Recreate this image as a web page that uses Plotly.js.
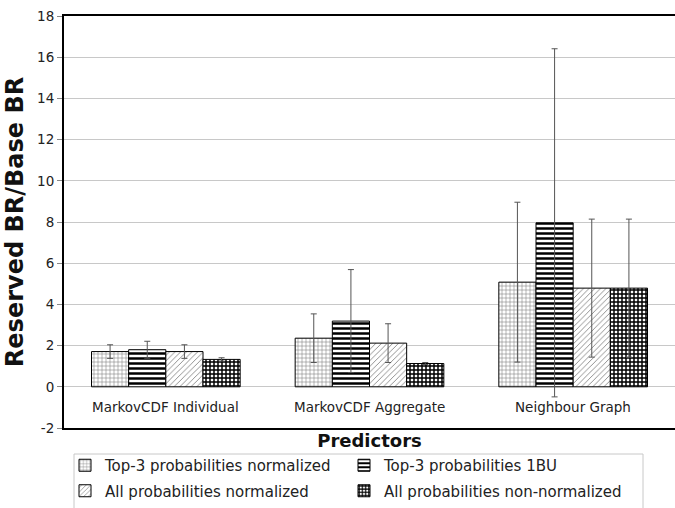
<!DOCTYPE html>
<html>
<head>
<meta charset="utf-8">
<script src="https://cdn.plot.ly/plotly-3.0.1.min.js"></script>
<style>html,body{margin:0;padding:0;background:#fff;overflow:hidden}</style>
</head>
<body>
<div id="chart" style="width:675px;height:508px"></div>
<script>
const categories = ["MarkovCDF Individual", "MarkovCDF Aggregate", "Neighbour Graph"];
const seriesNames = ["Top-3 probabilities normalized", "Top-3 probabilities 1BU", "All probabilities normalized", "All probabilities non-normalized"];
const top3Normalized = [1.71, 2.36, 5.08];
const top3Normalized_err = [0.33, 1.18, 3.88];
const top3OneBU = [1.80, 3.19, 7.96];
const top3OneBU_err = [0.41, 2.50, 8.45];
const allNormalized = [1.71, 2.12, 4.79];
const allNormalized_err = [0.33, 0.94, 3.35];
const allNonNormalized = [1.33, 1.13, 4.79];
const allNonNormalized_err = [0.08, 0.05, 3.35];
const yTicks = [-2, 0, 2, 4, 6, 8, 10, 12, 14, 16, 18];

const values = [top3Normalized, top3OneBU, allNormalized, allNonNormalized];
const errs = [top3Normalized_err, top3OneBU_err, allNormalized_err, allNonNormalized_err];
const legendFor = ["legend", "legend2", "legend", "legend2"];
const patterns = [
  {shape: "+", size: 4, solidity: 0.25, fgcolor: "#777", bgcolor: "#fff", fillmode: "replace"},
  {shape: "-", size: 5, solidity: 0.5, fgcolor: "#000", bgcolor: "#fff", fillmode: "replace"},
  {shape: "/", size: 4, solidity: 0.2, fgcolor: "#777", bgcolor: "#fff", fillmode: "replace"},
  {shape: "+", size: 4, solidity: 0.6, fgcolor: "#000", bgcolor: "#fff", fillmode: "replace"}
];

const traces = values.map((v, i) => ({
  type: "bar",
  name: seriesNames[i],
  x: categories,
  y: v,
  legend: legendFor[i],
  legendgroup: "g" + i,
  marker: {color: "#fff", line: {color: "#000", width: 1}, pattern: patterns[i]},
  error_y: {type: "data", array: errs[i], visible: true, color: "#555", thickness: 1, width: 3}
}));

const annotations = categories.map(c => ({
  x: c, y: -1, xref: "x", yref: "y", text: c, showarrow: false,
  font: {family: "DejaVu Sans", size: 13.5, color: "#222"}
}));

const W = 675, H = 508, ML = 64, MT = 16, MB = 80;
const PW = W - ML, PH = H - MT - MB;
const px2x = p => (p - ML) / PW;
const px2y = p => (H - MB - p) / PH;

const legendStyle = (xpx) => ({
  orientation: "v", x: px2x(xpx), y: px2y(449), xanchor: "left", yanchor: "top",
  borderwidth: 0, bgcolor: "rgba(0,0,0,0)", tracegroupgap: 3,
  font: {family: "DejaVu Sans", size: 15, color: "#222"},
  itemwidth: 30
});

const layout = {
  width: W, height: H,
  margin: {l: ML, r: 0, t: MT, b: MB},
  paper_bgcolor: "#fff", plot_bgcolor: "#fff",
  font: {family: "DejaVu Sans", color: "#222"},
  barmode: "group", bargap: 0.27, bargroupgap: 0,
  showlegend: true,
  xaxis: {
    showticklabels: false, showgrid: false, zeroline: false,
    showline: true, linecolor: "#000", linewidth: 2, mirror: true,
    ticks: "", automargin: false,
    title: {text: "<b>Predictors</b>", font: {family: "DejaVu Sans", size: 18, color: "#111"}, standoff: 5}
  },
  yaxis: {
    range: [-2, 18], tickvals: yTicks, ticktext: yTicks.map(String),
    showgrid: true, gridcolor: "#c8c8c8", gridwidth: 1,
    zeroline: false, showline: true, linecolor: "#000", linewidth: 2,
    ticks: "outside", ticklen: 5, tickcolor: "#888",
    tickfont: {family: "DejaVu Sans", size: 13.5, color: "#222"},
    automargin: false,
    title: {text: "<b>Reserved BR/Base BR</b>", font: {family: "DejaVu Sans", size: 24, color: "#111"}, standoff: 7}
  },
  legend: legendStyle(65),
  legend2: legendStyle(344),
  shapes: [{
    type: "rect", xref: "paper", yref: "paper",
    x0: px2x(74), x1: px2x(643), y0: px2y(454), y1: px2y(520),
    line: {color: "#c8c8c8", width: 1}, fillcolor: "rgba(0,0,0,0)", layer: "below"
  }],
  annotations: annotations
};

Plotly.newPlot("chart", traces, layout, {displayModeBar: false, staticPlot: true});
</script>
</body>
</html>
